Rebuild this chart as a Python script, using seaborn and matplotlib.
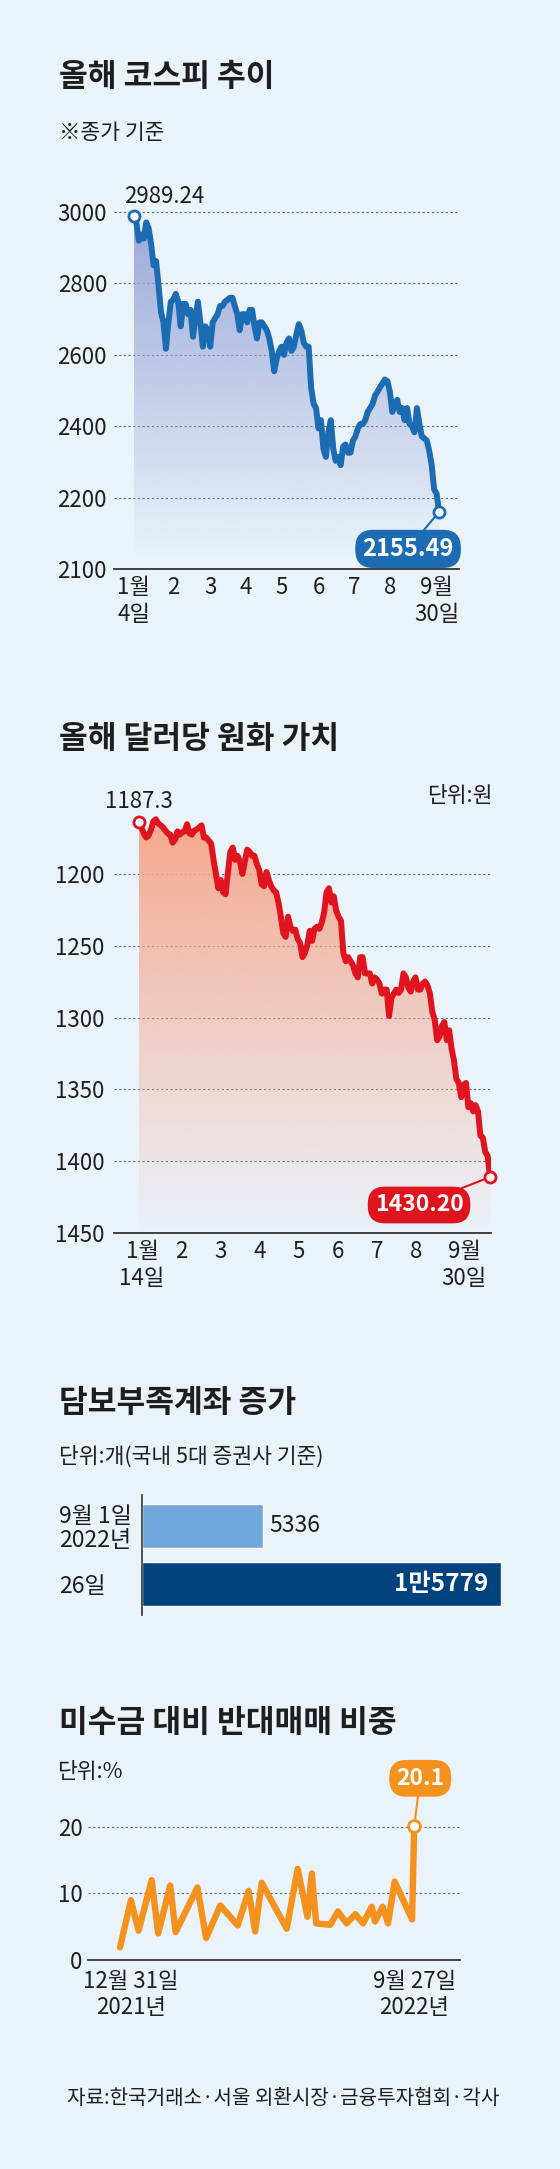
import matplotlib
import matplotlib.pyplot as plt
import matplotlib.colors as mcolors
import matplotlib.transforms as mtransforms
import numpy as np
import pandas as pd
import seaborn as sns

matplotlib.use("Agg")

# KOSPI closing values, trading days from Jan 4 to Sep 30
kospi = [2989, 2971, 2920, 2937, 2926, 2971, 2954, 2909, 2851, 2863,
         2794, 2720, 2691, 2617, 2691, 2749, 2754, 2771, 2749, 2680,
         2743, 2743, 2714, 2726, 2651, 2703, 2749, 2691, 2623, 2680,
         2669, 2623, 2691, 2703, 2714, 2737, 2737, 2749, 2754, 2760,
         2760, 2737, 2714, 2669, 2714, 2714, 2691, 2726, 2726, 2680,
         2646, 2691, 2691, 2680, 2669, 2646, 2611, 2554, 2589, 2611,
         2623, 2600, 2634, 2646, 2611, 2623, 2657, 2686, 2669, 2634,
         2623, 2623, 2509, 2463, 2451, 2394, 2417, 2337, 2314, 2383,
         2417, 2337, 2303, 2314, 2291, 2343, 2349, 2326, 2326, 2360,
         2371, 2394, 2406, 2406, 2417, 2440, 2451, 2463, 2486, 2497,
         2509, 2520, 2531, 2526, 2497, 2440, 2463, 2474, 2440, 2451,
         2417, 2451, 2406, 2400, 2383, 2451, 2406, 2371, 2366, 2360,
         2331, 2291, 2223, 2211, 2160]
kospi_month_pos = [0, 16, 31, 45.5, 60, 75, 89.5, 104, 123]
kospi_month_labels = ["1월\n4일", "2", "3", "4", "5", "6", "7", "8", "9월\n30일"]
kospi_yticks = [2000, 2200, 2400, 2600, 2800, 3000]
kospi_ytick_labels = ["2100", "2200", "2400", "2600", "2800", "3000"]
kospi_first_label = "2989.24"
kospi_last_label = "2155.49"

# won per dollar, Jan 14 to Sep 30
won = [1163.8, 1167.5, 1171.8, 1174.6, 1173.2, 1168.9, 1163.3, 1161.9, 1164.7, 1166.1,
       1167.5, 1169.8, 1171.8, 1172.6, 1178.2, 1176.0, 1170.3, 1172.6, 1170.9, 1170.3,
       1165.3, 1171.8, 1172.6, 1169.8, 1168.9, 1167.5, 1166.1, 1174.6, 1174.6, 1176.8,
       1178.8, 1190.1, 1200.0, 1209.9, 1204.2, 1212.7, 1214.1, 1198.6, 1184.5, 1181.6,
       1190.1, 1187.3, 1191.5, 1200.0, 1191.5, 1183.0, 1184.5, 1187.3, 1187.3, 1192.9,
       1197.2, 1207.1, 1208.5, 1198.6, 1204.2, 1208.5, 1211.3, 1212.7, 1219.8, 1229.7,
       1241.0, 1243.8, 1229.7, 1236.7, 1239.6, 1238.7, 1245.2, 1248.0, 1257.9, 1255.1,
       1249.4, 1239.6, 1246.6, 1238.1, 1236.7, 1238.1, 1233.9, 1226.8, 1212.7, 1209.9,
       1219.8, 1215.5, 1225.4, 1229.7, 1232.5, 1255.1, 1260.7, 1257.9, 1260.7, 1263.6,
       1269.2, 1272.0, 1257.9, 1257.9, 1269.2, 1269.2, 1269.2, 1276.3, 1272.0, 1273.5,
       1276.3, 1283.3, 1280.5, 1280.5, 1298.9, 1286.2, 1283.3, 1280.5, 1282.8, 1280.5,
       1269.2, 1272.0, 1279.1, 1281.9, 1274.9, 1272.0, 1280.5, 1280.5, 1276.3, 1274.9,
       1277.7, 1283.3, 1296.1, 1301.7, 1315.8, 1313.0, 1305.9, 1303.1, 1315.8, 1308.8,
       1321.5, 1330.0, 1342.7, 1345.5, 1355.4, 1346.9, 1345.5, 1362.4, 1359.6, 1365.3,
       1361.0, 1365.3, 1382.2, 1383.6, 1393.5, 1396.3, 1411.0]
won_month_pos = [1.3, 17.5, 33.7, 50.1, 66.5, 82.7, 98.9, 115.3, 135.3]
won_month_labels = ["1월\n14일", "2", "3", "4", "5", "6", "7", "8", "9월\n30일"]
won_yticks = [1200, 1250, 1300, 1350, 1400, 1450]
won_first_label = "1187.3"
won_last_label = "1430.20"

# accounts short of collateral
account_dates = ["9월 1일\n2022년", "26일"]
account_counts = [5336, 15779]
account_labels = ["5336", "1만5779"]

# forced liquidation share of unpaid amounts (%)
ratio_dates = ["2021-12-31", "2022-01-10", "2022-01-17", "2022-01-29", "2022-02-04",
               "2022-02-15", "2022-02-20", "2022-03-12", "2022-03-20", "2022-04-02",
               "2022-04-18", "2022-04-28", "2022-05-04", "2022-05-10", "2022-06-02",
               "2022-06-12", "2022-06-21", "2022-06-25", "2022-06-29", "2022-07-12",
               "2022-07-19", "2022-07-27", "2022-08-04", "2022-08-11", "2022-08-19",
               "2022-08-22", "2022-08-29", "2022-09-03", "2022-09-09", "2022-09-25",
               "2022-09-27"]
ratio_values = [1.9, 9.0, 4.4, 12.0, 4.0, 11.2, 4.2, 10.9, 3.3, 8.2,
                5.2, 10.4, 4.3, 11.6, 4.7, 13.7, 6.5, 13.0, 5.5, 5.3,
                7.3, 5.5, 6.9, 5.5, 8.0, 5.8, 8.0, 5.5, 11.8, 6.1, 20.1]
ratio_xtick_labels = ["12월 31일\n2021년", "9월 27일\n2022년"]
ratio_yticks = [0, 10, 20]
ratio_last_label = "20.1"

BG = "#eaf2fa"
TEXT = "#1e1e1e"
BLUE = "#1b6cb3"
RED = "#e0141e"
ORANGE = "#f5921e"
LIGHT_BAR = "#6fa8db"
DARK_BAR = "#00427e"
FONT = ["Noto Sans CJK KR", "DejaVu Sans"]

sns.set_style("white")
plt.rcParams["font.family"] = FONT
plt.rcParams["text.color"] = TEXT
plt.rcParams["xtick.color"] = TEXT
plt.rcParams["ytick.color"] = TEXT

W, H = 560, 2169
fig = plt.figure(figsize=(W / 100, H / 100), dpi=100, facecolor=BG)


def px_axes(left, top, right, bottom):
    ax = fig.add_axes([left / W, 1 - bottom / H, (right - left) / W, (bottom - top) / H])
    ax.set_facecolor("none")
    return ax


def px_text(x, y, s, **kw):
    fig.text(x / W, 1 - y / H, s, va="center", **kw)


def gradient_fill(ax, x, y, color, base, top):
    fill = ax.fill_between(x, y, base, facecolor="none", edgecolor="none")
    clip = fill.get_paths()[0]
    rgba = np.zeros((256, 1, 4))
    rgba[:, :, :3] = mcolors.to_rgb(color)
    rgba[:, 0, 3] = np.linspace(1, 0, 256)
    im = ax.imshow(rgba, aspect="auto", origin="upper", interpolation="bilinear",
                   extent=[x[0], x[-1], base, top], zorder=1)
    im.set_clip_path(clip, transform=ax.transData)


def style_line_axes(ax):
    for side in ["top", "right", "left"]:
        ax.spines[side].set_visible(False)
    ax.spines["bottom"].set_color("#333333")
    ax.spines["bottom"].set_linewidth(1.3)
    ax.set_axisbelow(True)
    ax.yaxis.grid(True, color="#666666", lw=0.8, ls=(0, (2, 2.2)))
    ax.xaxis.grid(False)


TITLE = 22.5
SUB = 15.5
TICK = 16

# ---- 1. KOSPI ----
px_text(59, 77, "올해 코스피 추이", fontsize=TITLE, weight="bold")
px_text(59, 133, "※종가 기준", fontsize=SUB)

ax1 = px_axes(114, 180, 459, 569)
x1 = np.arange(len(kospi))
gradient_fill(ax1, x1, kospi, "#9ba8d8", 2030, 3000)
sns.lineplot(x=x1, y=kospi, ax=ax1, color=BLUE, lw=4.3, zorder=3)
ax1.plot(x1[[0, -1]], np.array(kospi)[[0, -1]], "o", ms=8, mfc="white", mec=BLUE,
         mew=2, zorder=4, clip_on=False)
ax1.set_xlim(-8.1, 132.1)
ax1.set_ylim(2000, 3090)
ax1.set_yticks(kospi_yticks, kospi_ytick_labels)
ax1.set_xticks(kospi_month_pos, kospi_month_labels)
style_line_axes(ax1)
ax1.tick_params(axis="both", length=0, labelsize=TICK)
ax1.tick_params(axis="y", pad=5)
ax1.tick_params(axis="x", pad=5)
ax1.set_xlabel("")
ax1.set_ylabel("")
ax1.annotate(kospi_first_label, xy=(x1[0], kospi[0]), xytext=(30, 20),
             textcoords="offset pixels", ha="center", va="center", fontsize=TICK)
ax1.annotate(kospi_last_label, xy=(x1[-1], kospi[-1]), xytext=(-31, -37),
             textcoords="offset pixels", ha="center", va="center", fontsize=17,
             weight="bold", color="white", zorder=5,
             bbox=dict(boxstyle="round,pad=0.3,rounding_size=0.75", fc=BLUE, ec="none"),
             arrowprops=dict(arrowstyle="-", color=BLUE, lw=1.5, shrinkA=0, shrinkB=5))

# ---- 2. won per dollar ----
px_text(59, 739, "올해 달러당 원화 가치", fontsize=TITLE, weight="bold")
px_text(492, 796, "단위:원", fontsize=SUB, ha="right")

ax2 = px_axes(114, 790, 491, 1233)
x2 = np.arange(len(won))
gradient_fill(ax2, x2, won, "#f5a98f", 1450, 1165)
sns.lineplot(x=x2, y=won, ax=ax2, color=RED, lw=4.3, zorder=3)
ax2.plot(x2[[0, -1]], np.array(won)[[0, -1]], "o", ms=8, mfc="white", mec=RED,
         mew=2, zorder=4, clip_on=False)
ax2.set_xlim(-10.4, 146.4)
ax2.set_ylim(1450, 1141.5)
ax2.set_yticks(won_yticks)
ax2.set_xticks(won_month_pos, won_month_labels)
style_line_axes(ax2)
ax2.tick_params(axis="both", length=0, labelsize=TICK)
ax2.tick_params(axis="y", pad=7)
ax2.tick_params(axis="x", pad=5)
ax2.set_xlabel("")
ax2.set_ylabel("")
ax2.annotate(won_first_label, xy=(x2[0], won[0]), xytext=(0, 21),
             textcoords="offset pixels", ha="center", va="center", fontsize=TICK)
ax2.annotate(won_last_label, xy=(x2[-1], won[-1]), xytext=(-71, -28),
             textcoords="offset pixels", ha="center", va="center", fontsize=16.5,
             weight="bold", color="white", zorder=5,
             bbox=dict(boxstyle="round,pad=0.3,rounding_size=0.75", fc=RED, ec="none"),
             arrowprops=dict(arrowstyle="-", color=RED, lw=1.5, shrinkA=0, shrinkB=5))

# ---- 3. accounts ----
px_text(59, 1403, "담보부족계좌 증가", fontsize=TITLE, weight="bold")
px_text(59, 1457, "단위:개(국내 5대 증권사 기준)", fontsize=SUB)

ax3 = px_axes(142, 1495, 501, 1615)
bars = pd.DataFrame({"date": account_dates, "count": account_counts})
sns.barplot(data=bars, x="count", y="date", hue="date", palette=[LIGHT_BAR, DARK_BAR],
            orient="h", width=0.76, saturation=1, legend=False, ax=ax3)
ax3.set_xlim(0, max(account_counts))
ax3.set_ylim(1.534, -0.534)
for side in ["top", "right", "bottom"]:
    ax3.spines[side].set_visible(False)
ax3.spines["left"].set_color("#444444")
ax3.spines["left"].set_linewidth(1.3)
ax3.set_xticks([])
ax3.set_xlabel("")
ax3.set_ylabel("")
ax3.tick_params(axis="y", length=0, labelsize=16.5, pad=60)
for lab in ax3.get_yticklabels():
    lab.set_ha("left")
    lab.set_linespacing(1.05)
ax3.annotate(account_labels[0], xy=(account_counts[0], 0), xytext=(6, 0),
             textcoords="offset pixels", ha="left", va="center", fontsize=16.5)
ax3.annotate(account_labels[1], xy=(account_counts[1], 1), xytext=(-13, 0),
             textcoords="offset pixels", ha="right", va="center", fontsize=17.5,
             weight="bold", color="white")

# ---- 4. liquidation ratio ----
px_text(59, 1723, "미수금 대비 반대매매 비중", fontsize=TITLE, weight="bold")
px_text(57, 1772, "단위:%", fontsize=SUB)

ax4 = px_axes(88, 1790, 460, 1960)
dates = pd.to_datetime(ratio_dates)
sns.lineplot(x=dates, y=ratio_values, ax=ax4, color=ORANGE, lw=4.6, zorder=3)
ax4.plot(dates[-1:], ratio_values[-1:], "o", ms=8.5, mfc="white", mec=ORANGE,
         mew=2, zorder=4, clip_on=False)
ax4.set_xlim(dates[0] - pd.Timedelta(days=29.4), dates[0] + pd.Timedelta(days=312))
ax4.set_ylim(0, 25.56)
ax4.set_yticks(ratio_yticks)
ax4.set_xticks([dates[0], dates[-1]], ratio_xtick_labels)
style_line_axes(ax4)
ax4.tick_params(axis="y", length=0, labelsize=TICK, pad=4)
ax4.tick_params(axis="x", direction="in", length=5, width=1, color="#333333",
                labelsize=TICK, pad=7)
ax4.set_xlabel("")
ax4.set_ylabel("")
first = ax4.get_xticklabels()[0]
first.set_transform(first.get_transform()
                    + mtransforms.ScaledTranslation(0.11, 0, fig.dpi_scale_trans))
ax4.annotate(ratio_last_label, xy=(dates[-1], ratio_values[-1]), xytext=(6, 48),
             textcoords="offset pixels", ha="center", va="center", fontsize=16.5,
             weight="bold", color="white", zorder=5,
             bbox=dict(boxstyle="round,pad=0.3,rounding_size=0.75", fc=ORANGE, ec="none"),
             arrowprops=dict(arrowstyle="-", color=ORANGE, lw=1.5, shrinkA=0, shrinkB=5))

px_text(67, 2098, "자료:한국거래소·서울 외환시장·금융투자협회·각사", fontsize=14.5)

fig.savefig("out.png", dpi=100, facecolor=BG)
